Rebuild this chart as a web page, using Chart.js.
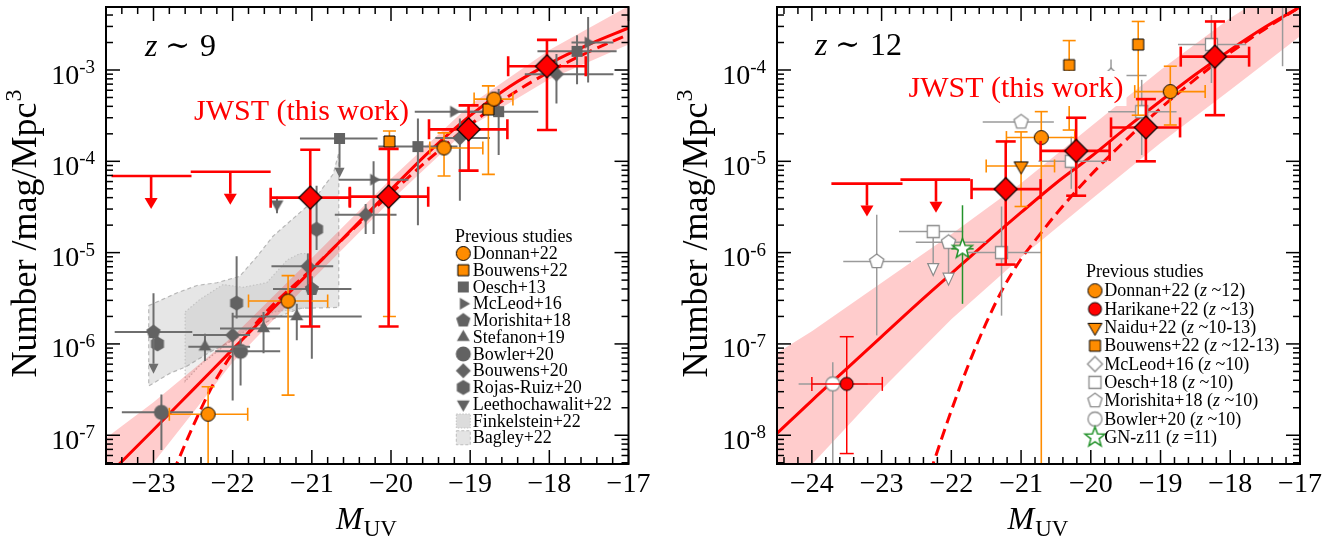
<!DOCTYPE html>
<html>
<head>
<meta charset="utf-8">
<script src="https://cdn.jsdelivr.net/npm/chart.js@4.4.1/dist/chart.umd.min.js"></script>
<style>
  html, body { margin: 0; padding: 0; background: #fff; }
  #wrap { position: relative; width: 1344px; height: 538px; }
  .box { position: absolute; top: 0; width: 672px; height: 538px; }
</style>
</head>
<body>
<div id="wrap">
  <div class="box" style="left:0"><canvas id="c9" width="672" height="538"></canvas></div>
  <div class="box" style="left:672px"><canvas id="c12" width="672" height="538"></canvas></div>
</div>
<script>
// ---------- z ~ 9 data ----------
// point rows: [M_UV, phi, M_lo, M_hi, phi_lo, phi_hi, lowerIsArrow]
const jwst9 = [
  [-21.02, 4.0e-5, -21.52, -20.52, 1.55e-6, 1.34e-4],
  [-20.03, 4.1e-5, -20.52, -19.53, 1.55e-6, 1.37e-4],
  [-19.02, 2.24e-4, -19.52, -18.53, 7.9e-5, 4.1e-4],
  [-18.03, 1.1e-3, -18.52, -17.54, 2.2e-4, 2.14e-3]
];
// upper limits: [M_UV, phi, M_lo, M_hi]
const jwstLimits9 = [
  [-23.03, 6.9e-5, -23.53, -22.52],
  [-22.03, 7.7e-5, -22.53, -21.52]
];
const donnan9 = [
  [-22.31, 1.7e-7, -22.80, -21.81, 1e-9, 3.4e-7],
  [-21.30, 2.95e-6, -21.80, -20.80, 2.75e-7, 5.6e-6],
  [-19.33, 1.40e-4, -19.51, -18.84, 6.9e-5, 2.05e-4],
  [-18.70, 4.8e-4, -18.95, -18.46, null, null]
];
const bouwens22_9 = [
  [-20.02, 1.65e-4, null, null, 2.0e-6, 2.15e-4],
  [-18.77, 3.7e-4, null, null, 7.2e-5, 6.7e-4]
];
const oesch13 = [
  [-20.65, 1.78e-4, -21.15, -20.17, 6.6e-5, null, 1],
  [-19.66, 1.45e-4, -20.16, -19.16, 2.0e-5, 2.95e-4],
  [-18.64, 3.5e-4, -19.14, -18.14, 1.17e-4, 6.2e-4],
  [-17.65, 1.6e-3, -18.15, -17.15, 7.0e-4, 2.4e-3]
];
const mcleod16_9 = [
  [-20.22, 6.3e-5, -20.66, -19.78, 1.6e-5, 1.0e-4],
  [-19.21, 3.5e-4, -19.70, -18.70, null, null],
  [-17.51, 2.0e-3, -17.72, -17.19, 7.3e-4, 3.8e-3]
];
const morishita18_9 = [
  [-23.00, 1.35e-6, -23.49, -22.51, 4.7e-7, 3.6e-6, 1],
  [-21.00, 4.0e-6, -21.49, -20.50, 6.9e-7, 5.5e-6]
];
const stefanon19 = [
  [-22.35, 9.3e-7, -22.56, -21.78, 6.5e-7, 1.29e-6],
  [-21.61, 1.48e-6, -22.16, -21.40, 7.9e-7, 2.24e-6],
  [-21.19, 2.0e-6, -22.01, -20.37, 1.1e-6, 2.75e-6]
];
const bowler20_9 = [
  [-22.90, 1.78e-7, -23.40, -22.50, 6.9e-8, 2.8e-7],
  [-21.90, 8.3e-7, -22.22, -21.40, 3.5e-7, 1.15e-6]
];
const bouwens20_9 = [
  [-22.00, 1.25e-6, -22.50, -21.78, 2.4e-7, 2.2e-6],
  [-21.05, 7.1e-6, -21.51, -20.73, 4.0e-6, 9.8e-6],
  [-20.32, 2.6e-5, -20.71, -19.93, 1.6e-5, 3.4e-5],
  [-19.13, 1.8e-4, -19.44, -18.75, 3.7e-5, 2.95e-4],
  [-17.91, 9.0e-4, -18.31, -17.19, 4.3e-4, 1.5e-3]
];
const rojasRuiz20 = [
  [-22.95, 1.0e-6, null, null, null, null],
  [-21.95, 2.8e-6, null, null, 1.9e-6, 9.1e-6],
  [-20.94, 1.8e-5, null, null, 1.07e-5, 5.4e-5]
];
const leethochawalit22 = [
  [-21.44, 3.4e-5, null, null, 2.7e-5, 4.1e-5]
];
// fits (log10 phi)
const dplM9 = [-23.6, -23.0, -22.5, -22.0, -21.5, -21.0, -20.5, -20.0, -19.5, -19.0, -18.5, -18.0, -17.5, -17.0];
const dplLog9 = [-7.46, -6.94, -6.50, -6.06, -5.62, -5.19, -4.75, -4.31, -3.88, -3.50, -3.18, -2.93, -2.72, -2.54];
const schM9 = [-22.75, -22.5, -22.25, -22.0, -21.75, -21.5, -21.0, -20.5, -20.0, -19.5, -19.0, -18.5, -18.0, -17.5, -17.0];
const schLog9 = [-7.40, -6.90, -6.45, -6.10, -5.82, -5.58, -5.18, -4.76, -4.35, -3.96, -3.60, -3.28, -3.02, -2.80, -2.61];
const bandM9 = [-23.6, -23.0, -22.0, -21.0, -20.0, -19.0, -18.0, -17.0];
const bandHiLog9 = [-7.03, -6.64, -5.92, -5.06, -4.19, -3.38, -2.78, -2.30];
const bandLoLog9 = [-7.95, -7.30, -6.20, -5.30, -4.43, -3.62, -3.10, -2.72];
// shaded regions: [M_UV, log10 phi]
const bagley22 = [[-23.06, -5.58], [-22.70, -5.44], [-22.45, -5.36], [-22.20, -5.33], [-21.91, -5.26], [-21.69, -5.04],
  [-21.49, -4.82], [-21.24, -4.63], [-20.99, -4.44], [-20.73, -4.14], [-20.66, -3.91], [-20.66, -5.60], [-21.15, -5.61],
  [-21.53, -5.74], [-21.91, -5.92], [-22.29, -6.09], [-22.59, -6.25], [-22.79, -6.32], [-23.06, -6.46]];
const finkelstein22 = [[-22.60, -5.65], [-22.41, -5.51], [-22.12, -5.35], [-21.87, -5.38], [-21.57, -5.33], [-21.31, -5.08],
  [-21.15, -5.01], [-21.02, -5.01], [-21.02, -5.60], [-21.49, -5.65], [-22.00, -5.95], [-22.41, -6.23], [-22.60, -6.41]];

// ---------- z ~ 12 data ----------
const jwst12 = [
  [-21.22, 4.96e-6, -21.71, -20.72, 7.4e-7, 1.65e-5],
  [-20.21, 1.30e-5, -20.72, -19.73, 4.2e-6, 3.0e-5],
  [-19.21, 2.35e-5, -19.71, -18.72, 1.0e-5, 4.8e-5],
  [-18.22, 1.4e-4, -18.71, -17.73, 3.2e-5, 3.4e-4]
];
const jwstLimits12 = [
  [-23.21, 5.7e-6, -23.72, -22.70],
  [-22.22, 6.3e-6, -22.73, -21.73]
];
const donnan12 = [
  [-20.71, 1.82e-5, -21.21, -20.23, 1e-10, 3.5e-5],
  [-18.86, 5.8e-5, -19.37, -18.36, 2.5e-5, 1.1e-4]
];
const harikane22 = [[-23.50, 3.65e-8, -24.00, -22.99, 6.3e-9, 1.2e-7]];
const naidu22 = [[-21.00, 8.9e-6, -21.50, -20.52, 3.2e-6, 2.1e-5]];
const bouwens22_12 = [
  [-20.31, 1.13e-4, null, null, 2.2e-5, 2.1e-4],
  [-19.32, 1.9e-4, null, null, 3.2e-5, 3.4e-4]
];
const mcleod16_12 = [
  [-19.71, 8.7e-5, -20.21, -19.20, 6.8e-5, 1.3e-4],
  [-17.25, 6.0e-4, -17.75, -16.75, 1.1e-4, 1.5e-3]
];
const oesch18 = [
  [-22.26, 1.7e-6, -22.75, -21.83, 5.6e-7, null, 1],
  [-21.28, 1.0e-6, -21.78, -20.70, 2.04e-7, 3.2e-6],
  [-20.28, 1.0e-5, -20.75, -19.77, 5.0e-6, 1.86e-5],
  [-19.27, 3.5e-5, -19.75, -18.77, 1.17e-5, 7.8e-5],
  [-18.27, 1.9e-4, -18.75, -17.77, 7.2e-5, 4.0e-4]
];
const morishita18_12 = [
  [-23.07, 8.0e-7, -23.55, -22.58, 1.24e-7, 2.6e-6],
  [-22.04, 1.3e-6, -22.51, -21.50, 4.4e-7, null, 1],
  [-21.00, 2.7e-5, -21.55, -20.53, null, null]
];
const bowler20_12 = [[-23.70, 3.65e-8, -24.19, -23.20, 1e-10, 6.3e-8]];
const gnz11 = [[-21.84, 1.1e-6, -22.00, -21.68, 2.75e-7, 3.3e-6]];
const dplM12 = [-24.5, -24.0, -23.5, -23.0, -22.5, -22.0, -21.5, -21.0, -20.5, -20.0, -19.5, -19.0, -18.5, -18.0, -17.5, -17.0];
const dplLog12 = [-7.98, -7.62, -7.27, -6.92, -6.57, -6.23, -5.89, -5.56, -5.24, -4.95, -4.64, -4.34, -4.05, -3.78, -3.53, -3.31];
const schM12 = [-22.3, -22.0, -21.75, -21.5, -21.25, -21.0, -20.75, -20.5, -20.0, -19.5, -19.0, -18.5, -18.0, -17.5, -17.0];
const schLog12 = [-8.40, -7.73, -7.22, -6.77, -6.38, -6.07, -5.82, -5.58, -5.15, -4.77, -4.42, -4.10, -3.81, -3.55, -3.31];
const bandM12 = [-24.5, -24.0, -23.0, -22.0, -21.0, -20.0, -19.0, -18.0, -17.0];
const bandHiLog12 = [-7.10, -6.86, -6.33, -5.80, -5.24, -4.62, -4.00, -3.43, -2.95];
const bandLoLog12 = [-8.83, -8.32, -7.50, -6.73, -6.05, -5.42, -4.80, -4.22, -3.63];

// ---------- styling ----------
const FONT = '"Liberation Serif", "DejaVu Serif", serif';
const RED = '#ff0000', ORANGE = '#ff8c00', DGRAY = '#626262', OPEN = '#8c8c8c', GREEN = '#23922a';

function shapePath(ctx, shape, x, y, r) {
  ctx.beginPath();
  const poly = (n, start, rad) => {
    for (let i = 0; i < n; i++) {
      const a = start + i * 2 * Math.PI / n;
      const px = x + rad * Math.cos(a), py = y + rad * Math.sin(a);
      if (i) ctx.lineTo(px, py); else ctx.moveTo(px, py);
    }
    ctx.closePath();
  };
  switch (shape) {
    case 'circle': ctx.arc(x, y, r, 0, 2 * Math.PI); break;
    case 'square': ctx.rect(x - r, y - r, 2 * r, 2 * r); break;
    case 'diamond': poly(4, -Math.PI / 2, r); break;
    case 'triUp': poly(3, -Math.PI / 2, r * 1.15); break;
    case 'triDown': poly(3, Math.PI / 2, r * 1.15); break;
    case 'triRight': poly(3, 0, r * 1.15); break;
    case 'pentagon': poly(5, -Math.PI / 2, r); break;
    case 'hexagon': poly(6, -Math.PI / 2, r); break;
    case 'star':
      for (let i = 0; i < 10; i++) {
        const a = -Math.PI / 2 + i * Math.PI / 5, rad = i % 2 ? r * 0.42 : r;
        const px = x + rad * Math.cos(a), py = y + rad * Math.sin(a);
        if (i) ctx.lineTo(px, py); else ctx.moveTo(px, py);
      }
      ctx.closePath();
      break;
  }
}

function marker(shape, size, fill, stroke, lw) {
  const c = document.createElement('canvas');
  const S = Math.ceil(size * 1.3 + 2 * (lw || 0) + 2);
  c.width = c.height = S;
  const ctx = c.getContext('2d');
  shapePath(ctx, shape, S / 2, S / 2, size / 2);
  if (fill) { ctx.fillStyle = fill; ctx.fill(); }
  if (stroke && lw) { ctx.lineWidth = lw; ctx.strokeStyle = stroke; ctx.stroke(); }
  return c;
}

const MK = {
  jwst: marker('diamond', 23, RED, '#000', 1.2),
  harikane: marker('circle', 13, RED, '#000', 1),
  donnan: marker('circle', 14, ORANGE, '#000', 1),
  bouwens22: marker('square', 11, ORANGE, '#000', 1),
  naidu: marker('triDown', 14, ORANGE, '#000', 1),
  gSquare: marker('square', 11, DGRAY),
  gTriRight: marker('triRight', 12, DGRAY),
  gPentagon: marker('pentagon', 15, DGRAY),
  gTriUp: marker('triUp', 13, DGRAY),
  gCircle: marker('circle', 15, DGRAY),
  gDiamond: marker('diamond', 15, DGRAY),
  gHexagon: marker('hexagon', 15, DGRAY),
  gTriDown: marker('triDown', 13, DGRAY),
  oDiamond: marker('diamond', 15, '#fff', OPEN, 1.3),
  oSquare: marker('square', 12, '#fff', OPEN, 1.3),
  oPentagon: marker('pentagon', 15, '#fff', OPEN, 1.3),
  oCircle: marker('circle', 14, '#fff', OPEN, 1.3),
  star: marker('star', 21, '#fff', GREEN, 1.5)
};

const EB = {
  red: { color: RED, lw: 2.6, cap: 10 },
  ul: { color: RED, lw: 2.6, arrowLen: 33, headW: 13, headH: 11 },
  orange: { color: ORANGE, lw: 1.6, cap: 6.5 },
  gray: { color: '#6e6e6e', lw: 2, cap: 0, headW: 10, headH: 10 },
  open: { color: '#9a9a9a', lw: 1.5, cap: 0, headW: 11, headH: 12, headFill: '#fff', headStroke: OPEN },
  thinRed: { color: RED, lw: 1.5, cap: 7 },
  green: { color: GREEN, lw: 1.5, cap: 0 }
};

function pointSet(label, rows, mk, eb, order) {
  return { type: 'scatter', label, rows, eb, order, data: rows.map(r => ({ x: r[0], y: r[1] })),
    pointStyle: mk, pointRadius: 6, pointHoverRadius: 6, showLine: false };
}
function limitSet(rows, order) {
  return { type: 'scatter', label: 'JWST limits', rows, eb: EB.ul, ul: true, order,
    data: rows.map(r => ({ x: r[0], y: r[1] })), pointRadius: 0 };
}
function curveSet(label, ms, logs, dash, order) {
  return { type: 'line', label, order, data: ms.map((m, i) => ({ x: m, y: 10 ** logs[i] })),
    borderColor: RED, borderWidth: 3, borderDash: dash, pointRadius: 0, fill: false,
    cubicInterpolationMode: 'monotone' };
}
function shapeSet(label, verts, bg, border, dash, lw, order) {
  const pts = verts.map(v => ({ x: v[0], y: 10 ** v[1] }));
  pts.push(pts[0]);
  return { type: 'line', label, order, data: pts, backgroundColor: bg, borderColor: border,
    borderWidth: lw, borderDash: dash, pointRadius: 0, fill: 'shape', tension: 0 };
}
function bandVerts(ms, hi, lo) {
  const up = ms.map((m, i) => [m, hi[i]]);
  const dn = ms.map((m, i) => [m, lo[i]]).reverse();
  return up.concat(dn);
}

// ---------- drawing helpers ----------
function arrowDown(ctx, x, y0, tip, st) {
  ctx.beginPath(); ctx.moveTo(x, y0); ctx.lineTo(x, tip - st.headH); ctx.stroke();
  ctx.beginPath();
  ctx.moveTo(x - st.headW / 2, tip - st.headH); ctx.lineTo(x + st.headW / 2, tip - st.headH); ctx.lineTo(x, tip);
  ctx.closePath();
  ctx.fillStyle = st.headFill || st.color; ctx.fill();
  if (st.headStroke) { ctx.save(); ctx.lineWidth = 1.2; ctx.strokeStyle = st.headStroke; ctx.stroke(); ctx.restore(); }
}

function drawErrors(chart, ds) {
  const { ctx, chartArea: a } = chart;
  const xs = chart.scales.x, ys = chart.scales.y, st = ds.eb;
  ctx.save();
  ctx.beginPath(); ctx.rect(a.left, a.top, a.right - a.left, a.bottom - a.top); ctx.clip();
  ctx.strokeStyle = st.color; ctx.lineWidth = st.lw;
  const seg = (x1, y1, x2, y2) => { ctx.beginPath(); ctx.moveTo(x1, y1); ctx.lineTo(x2, y2); ctx.stroke(); };
  ds.rows.forEach(r => {
    const px = xs.getPixelForValue(r[0]), py = ys.getPixelForValue(r[1]);
    if (ds.ul) {
      seg(xs.getPixelForValue(r[2]), py, xs.getPixelForValue(r[3]), py);
      arrowDown(ctx, px, py, py + st.arrowLen, st);
      return;
    }
    if (r[2] != null) {
      const x1 = xs.getPixelForValue(r[2]), x2 = xs.getPixelForValue(r[3]);
      seg(x1, py, x2, py);
      if (st.cap) { seg(x1, py - st.cap, x1, py + st.cap); seg(x2, py - st.cap, x2, py + st.cap); }
    }
    if (r[5] != null) {
      const yt = ys.getPixelForValue(r[5]);
      seg(px, py, px, yt);
      if (st.cap) seg(px - st.cap, yt, px + st.cap, yt);
    }
    if (r[4] != null) {
      const yb = ys.getPixelForValue(r[4]);
      if (r[6]) arrowDown(ctx, px, py, yb, st);
      else { seg(px, py, px, yb); if (st.cap) seg(px - st.cap, yb, px + st.cap, yb); }
    }
  });
  ctx.restore();
}

function drawRich(ctx, parts, x, y, size) {
  parts.forEach(([t, ital]) => {
    ctx.font = (ital ? 'italic ' : '') + size + 'px ' + FONT;
    ctx.fillText(t, x, y);
    x += ctx.measureText(t).width;
  });
}

function drawLegend(ctx, L) {
  ctx.save();
  ctx.fillStyle = '#000'; ctx.textAlign = 'left'; ctx.textBaseline = 'middle';
  ctx.font = '18px ' + FONT;
  ctx.fillText('Previous studies', L.titleX, L.titleY);
  L.items.forEach((it, i) => {
    const cy = L.y0 + i * L.dy;
    if (it.box) {
      ctx.save();
      ctx.fillStyle = it.box.fill; ctx.fillRect(L.mx - 7, cy - 7, 14, 14);
      ctx.strokeStyle = it.box.stroke; ctx.lineWidth = 1; ctx.setLineDash(it.box.dash);
      ctx.strokeRect(L.mx - 7, cy - 7, 14, 14);
      ctx.restore();
    } else {
      ctx.drawImage(it.mk, L.mx - it.mk.width / 2, cy - it.mk.height / 2);
    }
    ctx.fillStyle = '#000';
    drawRich(ctx, it.parts, L.tx, cy + 1, 18);
  });
  ctx.restore();
}

function drawDecor(chart, P) {
  const { ctx, chartArea: a } = chart;
  const ys = chart.scales.y;
  ctx.save();
  ctx.fillStyle = '#000'; ctx.textBaseline = 'alphabetic'; ctx.textAlign = 'left';
  // redshift label
  ctx.font = 'italic 32px ' + FONT; ctx.fillText('z', P.zX, P.zY);
  ctx.font = '30px "DejaVu Serif", ' + FONT; ctx.fillText('\u223C', P.zX + 20, P.zY - 1);
  ctx.font = '32px ' + FONT; ctx.fillText(P.zNum, P.zX + 55, P.zY);
  // JWST label with white box
  ctx.font = '30px ' + FONT;
  const jw = ctx.measureText('JWST (this work)').width;
  ctx.fillStyle = '#fff'; ctx.fillRect(P.jwstX - 3, P.jwstY - 26, jw + 6, 35);
  ctx.fillStyle = RED; ctx.fillText('JWST (this work)', P.jwstX, P.jwstY);
  // y tick labels
  ctx.fillStyle = '#000';
  P.decades.forEach(e => {
    const py = ys.getPixelForValue(10 ** e);
    ctx.font = '19px ' + FONT; const sup = String(e); const ws = ctx.measureText(sup).width;
    ctx.font = '28px ' + FONT; const w10 = ctx.measureText('10').width;
    const right = a.left - 11;
    ctx.fillText('10', right - ws - w10, py + 13.5);
    ctx.font = '19px ' + FONT; ctx.fillText(sup, right - ws, py + 3);
  });
  // y axis title
  ctx.save();
  ctx.translate(P.ytitleX, 234); ctx.rotate(-Math.PI / 2);
  ctx.font = '36px ' + FONT; const main = 'Number /mag/Mpc'; const wm = ctx.measureText(main).width;
  ctx.font = '24px ' + FONT; const w3 = ctx.measureText('3').width;
  const x0 = -(wm + w3) / 2;
  ctx.font = '36px ' + FONT; ctx.fillText(main, x0, 0);
  ctx.font = '24px ' + FONT; ctx.fillText('3', x0 + wm + 1, -15);
  ctx.restore();
  // x axis title
  ctx.font = 'italic 32px ' + FONT; const wM = ctx.measureText('M').width;
  ctx.font = '23px ' + FONT; const wUV = ctx.measureText('UV').width;
  const mx = P.mCenter - (wM + wUV) / 2;
  ctx.font = 'italic 32px ' + FONT; ctx.fillText('M', mx, 529);
  ctx.font = '23px ' + FONT; ctx.fillText('UV', mx + wM + 1, 536);
  ctx.restore();
  drawLegend(ctx, P.legend);
}

function drawFrame(chart) {
  const { ctx, chartArea: a } = chart;
  const xs = chart.scales.x, ys = chart.scales.y;
  ctx.save();
  ctx.strokeStyle = '#000'; ctx.lineWidth = 1.5;
  const seg = (x1, y1, x2, y2) => { ctx.beginPath(); ctx.moveTo(x1, y1); ctx.lineTo(x2, y2); ctx.stroke(); };
  for (let k = Math.ceil(xs.min * 5); k <= Math.floor(xs.max * 5); k++) {
    const v = k / 5, major = k % 5 === 0, len = major ? 14 : 7;
    const px = xs.getPixelForValue(v);
    seg(px, a.bottom, px, a.bottom - len); seg(px, a.top, px, a.top + len);
  }
  const e0 = Math.floor(Math.log10(ys.min)), e1 = Math.ceil(Math.log10(ys.max));
  for (let e = e0; e <= e1; e++) {
    for (let m = 1; m <= 9; m++) {
      const v = m * 10 ** e;
      if (v < ys.min || v > ys.max) continue;
      const py = ys.getPixelForValue(v), len = m === 1 ? 14 : 7;
      seg(a.left, py, a.left + len, py); seg(a.right, py, a.right - len, py);
    }
  }
  ctx.lineWidth = 2;
  ctx.strokeRect(a.left, a.top, a.right - a.left, a.bottom - a.top);
  ctx.restore();
}

function makeChart(id, P, datasets) {
  const decor = {
    id: 'decor',
    beforeDatasetDraw(chart, args) {
      const ds = chart.data.datasets[args.index];
      if (ds.eb) drawErrors(chart, ds);
    },
    afterDatasetsDraw(chart) { drawDecor(chart, P); },
    afterDraw(chart) { drawFrame(chart); }
  };
  return new Chart(document.getElementById(id), {
    type: 'scatter',
    data: { datasets },
    plugins: [decor],
    options: {
      responsive: false, animation: false, devicePixelRatio: 1,
      layout: { padding: { left: 0, right: P.padRight, top: 1, bottom: 0 } },
      plugins: { legend: { display: false }, tooltip: { enabled: false } },
      scales: {
        x: {
          type: 'linear', min: P.xMin, max: P.xMax,
          grid: { display: false, drawTicks: false }, border: { display: false },
          afterBuildTicks: s => { s.ticks = P.xTicks.map(v => ({ value: v })); },
          afterFit: s => { s.height = 74; },
          ticks: { font: { family: FONT, size: 28 }, color: '#000', padding: 4, maxRotation: 0,
            autoSkip: false, callback: v => '\u2212' + Math.abs(v) }
        },
        y: {
          type: 'logarithmic', min: P.yMin, max: P.yMax,
          grid: { display: false, drawTicks: false }, border: { display: false },
          ticks: { display: false },
          afterFit: s => { s.width = P.frameLeft; }
        }
      }
    }
  });
}

// ---------- left panel ----------
makeChart('c9', {
  xMin: -23.6, xMax: -17, yMin: 10 ** -7.315, yMax: 10 ** -2.31,
  xTicks: [-23, -22, -21, -20, -19, -18, -17], decades: [-7, -6, -5, -4, -3],
  frameLeft: 106, padRight: 43.5,
  zNum: '9', zX: 145, zY: 56, jwstX: 194, jwstY: 120, ytitleX: 36, mCenter: 366,
  legend: {
    titleX: 455, titleY: 237, mx: 463.3, tx: 472.7, y0: 253.5, dy: 16.75,
    items: [
      { mk: MK.donnan, parts: [['Donnan+22']] },
      { mk: MK.bouwens22, parts: [['Bouwens+22']] },
      { mk: MK.gSquare, parts: [['Oesch+13']] },
      { mk: MK.gTriRight, parts: [['McLeod+16']] },
      { mk: MK.gPentagon, parts: [['Morishita+18']] },
      { mk: MK.gTriUp, parts: [['Stefanon+19']] },
      { mk: MK.gCircle, parts: [['Bowler+20']] },
      { mk: MK.gDiamond, parts: [['Bouwens+20']] },
      { mk: MK.gHexagon, parts: [['Rojas-Ruiz+20']] },
      { mk: MK.gTriDown, parts: [['Leethochawalit+22']] },
      { box: { fill: '#dcdcdc', stroke: '#c4c4c4', dash: [1.5, 1.5] }, parts: [['Finkelstein+22']] },
      { box: { fill: '#e4e4e4', stroke: '#bdbdbd', dash: [3, 2] }, parts: [['Bagley+22']] }
    ]
  }
}, [
  pointSet('JWST (this work)', jwst9, MK.jwst, EB.red, 1),
  limitSet(jwstLimits9, 2),
  pointSet('Donnan+22', donnan9, MK.donnan, EB.orange, 3),
  pointSet('Bouwens+22', bouwens22_9, MK.bouwens22, EB.orange, 4),
  pointSet('Oesch+13', oesch13, MK.gSquare, EB.gray, 5),
  pointSet('McLeod+16', mcleod16_9, MK.gTriRight, EB.gray, 6),
  pointSet('Morishita+18', morishita18_9, MK.gPentagon, EB.gray, 7),
  pointSet('Stefanon+19', stefanon19, MK.gTriUp, EB.gray, 8),
  pointSet('Bowler+20', bowler20_9, MK.gCircle, EB.gray, 9),
  pointSet('Bouwens+20', bouwens20_9, MK.gDiamond, EB.gray, 10),
  pointSet('Rojas-Ruiz+20', rojasRuiz20, MK.gHexagon, EB.gray, 11),
  pointSet('Leethochawalit+22', leethochawalit22, MK.gTriDown, EB.gray, 12),
  curveSet('DPL fit', dplM9, dplLog9, [], 20),
  curveSet('Schechter fit', schM9, schLog9, [11, 6], 21),
  shapeSet('fit range', bandVerts(bandM9, bandHiLog9, bandLoLog9), 'rgba(255,0,0,0.2)', 'rgba(0,0,0,0)', [], 0, 22),
  shapeSet('Finkelstein+22', finkelstein22, 'rgba(128,128,128,0.13)', '#c4c4c4', [1.5, 2], 1.2, 23),
  shapeSet('Bagley+22', bagley22, 'rgba(128,128,128,0.2)', '#b8b8b8', [4, 3], 1.2, 24)
]);

// ---------- right panel ----------
makeChart('c12', {
  xMin: -24.5, xMax: -17, yMin: 10 ** -8.315, yMax: 10 ** -3.31,
  xTicks: [-24, -23, -22, -21, -20, -19, -18, -17], decades: [-8, -7, -6, -5, -4],
  frameLeft: 105, padRight: 44,
  zNum: '12', zX: 143, zY: 55, jwstX: 236.5, jwstY: 97, ytitleX: 35, mCenter: 365.5,
  legend: {
    titleX: 414, titleY: 272, mx: 423, tx: 432.3, y0: 290.7, dy: 18.33,
    items: [
      { mk: MK.donnan, parts: [['Donnan+22 ('], ['z', 1], [' ~12)']] },
      { mk: MK.harikane, parts: [['Harikane+22 ('], ['z', 1], [' ~13)']] },
      { mk: MK.naidu, parts: [['Naidu+22 ('], ['z', 1], [' ~10-13)']] },
      { mk: MK.bouwens22, parts: [['Bouwens+22 ('], ['z', 1], [' ~12-13)']] },
      { mk: MK.oDiamond, parts: [['McLeod+16 ('], ['z', 1], [' ~10)']] },
      { mk: MK.oSquare, parts: [['Oesch+18 ('], ['z', 1], [' ~10)']] },
      { mk: MK.oPentagon, parts: [['Morishita+18 ('], ['z', 1], [' ~10)']] },
      { mk: MK.oCircle, parts: [['Bowler+20 ('], ['z', 1], [' ~10)']] },
      { mk: MK.star, parts: [['GN-z11 ('], ['z', 1], [' =11)']] }
    ]
  }
}, [
  pointSet('JWST (this work)', jwst12, MK.jwst, EB.red, 1),
  limitSet(jwstLimits12, 2),
  pointSet('Harikane+22', harikane22, MK.harikane, EB.thinRed, 3),
  pointSet('Donnan+22', donnan12, MK.donnan, EB.orange, 4),
  pointSet('Naidu+22', naidu22, MK.naidu, EB.orange, 5),
  pointSet('Bouwens+22', bouwens22_12, MK.bouwens22, EB.orange, 6),
  pointSet('GN-z11', gnz11, MK.star, EB.green, 7),
  pointSet('McLeod+16', mcleod16_12, MK.oDiamond, EB.open, 8),
  pointSet('Oesch+18', oesch18, MK.oSquare, EB.open, 9),
  pointSet('Morishita+18', morishita18_12, MK.oPentagon, EB.open, 10),
  pointSet('Bowler+20', bowler20_12, MK.oCircle, EB.open, 11),
  curveSet('DPL fit', dplM12, dplLog12, [], 20),
  curveSet('Schechter fit', schM12, schLog12, [11, 6], 21),
  shapeSet('fit range', bandVerts(bandM12, bandHiLog12, bandLoLog12), 'rgba(255,0,0,0.2)', 'rgba(0,0,0,0)', [], 0, 22)
]);
</script>
</body>
</html>
